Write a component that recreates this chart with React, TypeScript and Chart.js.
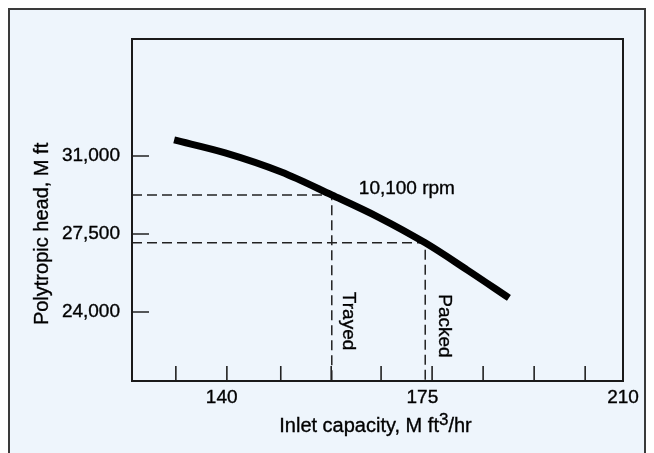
import React, { useEffect, useRef } from "react";
import { Chart, registerables } from "chart.js";

Chart.register(...registerables);

// ---- data ----
const CURVE_X = [131.7, 140.6, 150.4, 159.2, 167.3, 175.5, 182.8, 190.1];
const CURVE_Y = [31720, 31140, 30280, 29250, 28260, 27100, 25890, 24630];
const TRAYED_X = 159.2;
const TRAYED_Y = 29250;
const PACKED_X = 175.5;
const PACKED_Y = 27100;
const X_LABEL_TICKS = [140, 175, 210];
const X_MINOR_TICKS = [132.0, 140.9, 150.3, 159.1, 167.8, 176.7, 185.6, 194.5, 203.4];
const Y_TICKS = [24000, 27500, 31000];
const X_MIN = 124.35;
const X_MAX = 210;
const Y_MIN = 20900;
const Y_MAX = 36250;
const CURVE_LABEL = "10,100 rpm";
const CURVE_LABEL_AT = [172.3, 29520];
const LINE_LABELS = ["Trayed", "Packed"];
const LINE_LABEL_X = [162.0, 178.8];
const LINE_LABEL_Y = [23590, 23370];
const X_TITLE_PARTS = ["Inlet capacity, M ft", "3", "/hr"];
const Y_TITLE = "Polytropic head, M ft";

const FONT = '"Liberation Sans", Arial, Helvetica, sans-serif';
const INK = "#222";
const TEXT = "#000";

const decoPlugin = {
  id: "deco",
  afterDatasetsDraw(chart: any) {
    const { ctx, chartArea: a, scales } = chart;
    const x = scales.x;
    const y = scales.y;
    ctx.save();
    ctx.strokeStyle = INK;
    ctx.lineWidth = 1.6;
    ctx.beginPath();
    for (const v of Y_TICKS) {
      const py = y.getPixelForValue(v);
      ctx.moveTo(a.left, py);
      ctx.lineTo(a.left + 17, py);
    }
    for (const v of X_MINOR_TICKS) {
      const px = x.getPixelForValue(v);
      ctx.moveTo(px, a.bottom);
      ctx.lineTo(px, a.bottom - 15);
    }
    ctx.stroke();
    ctx.strokeStyle = "#1a1a1a";
    ctx.lineWidth = 2;
    ctx.strokeRect(a.left, a.top, a.right - a.left, a.bottom - a.top);

    ctx.fillStyle = TEXT;
    ctx.strokeStyle = TEXT;
    ctx.lineWidth = 0.35;
    ctx.font = "19px " + FONT;
    ctx.textAlign = "center";
    ctx.textBaseline = "middle";
    const put = (t: string, px: number, py: number) => {
      ctx.fillText(t, px, py);
      ctx.strokeText(t, px, py);
    };
    put(CURVE_LABEL, x.getPixelForValue(CURVE_LABEL_AT[0]), y.getPixelForValue(CURVE_LABEL_AT[1]));
    LINE_LABELS.forEach((t, i) => {
      ctx.save();
      ctx.translate(x.getPixelForValue(LINE_LABEL_X[i]), y.getPixelForValue(LINE_LABEL_Y[i]));
      ctx.rotate(Math.PI / 2);
      put(t, 0, 0);
      ctx.restore();
    });
    // y axis title, centred on the middle tick
    ctx.font = "20px " + FONT;
    ctx.save();
    ctx.translate(y.left + 32, y.getPixelForValue(Y_TICKS[1]));
    ctx.rotate(-Math.PI / 2);
    put(Y_TITLE, 0, 0);
    ctx.restore();

    // x axis title with a raised superscript
    const main = "20px " + FONT;
    const sup = "17px " + FONT;
    ctx.textAlign = "left";
    ctx.textBaseline = "alphabetic";
    ctx.font = main;
    const w0 = ctx.measureText(X_TITLE_PARTS[0]).width;
    const w2 = ctx.measureText(X_TITLE_PARTS[2]).width;
    ctx.font = sup;
    const w1 = ctx.measureText(X_TITLE_PARTS[1]).width;
    const total = w0 + w1 + w2;
    const base = x.bottom - 21;
    let cx = (a.left + a.right) / 2 - total / 2 - 2;
    ctx.font = main;
    put(X_TITLE_PARTS[0], cx, base);
    cx += w0;
    ctx.font = sup;
    put(X_TITLE_PARTS[1], cx, base - 7);
    cx += w1;
    ctx.font = main;
    put(X_TITLE_PARTS[2], cx, base);
    ctx.restore();
  },
};

export default function App() {
  const ref = useRef<HTMLCanvasElement | null>(null);

  useEffect(() => {
    if (!ref.current) return;
    Chart.defaults.font.family = FONT;
    const curve = CURVE_X.map((v, i) => ({ x: v, y: CURVE_Y[i] }));
    const dashed = (px: number, py: number) => [
      { x: X_MIN, y: py },
      { x: px, y: py },
      { x: px, y: Y_MIN },
    ];
    const chart = new Chart(ref.current, {
      type: "line",
      data: {
        datasets: [
          {
            label: "10,100 rpm",
            data: curve,
            borderColor: "#000",
            borderWidth: 7,
            borderCapStyle: "butt",
            pointRadius: 0,
            cubicInterpolationMode: "monotone",
          },
          {
            label: "Trayed",
            data: dashed(TRAYED_X, TRAYED_Y),
            borderColor: INK,
            borderWidth: 1.5,
            borderDash: [10, 5],
            pointRadius: 0,
            tension: 0,
          },
          {
            label: "Packed",
            data: dashed(PACKED_X, PACKED_Y),
            borderColor: INK,
            borderWidth: 1.5,
            borderDash: [10, 5],
            pointRadius: 0,
            tension: 0,
          },
        ],
      },
      options: {
        responsive: false,
        animation: false,
        devicePixelRatio: 1,
        layout: { padding: { top: 29, right: 21, left: 0, bottom: 0 } },
        plugins: { legend: { display: false }, tooltip: { enabled: false } },
        scales: {
          x: {
            type: "linear",
            min: X_MIN,
            max: X_MAX,
            grid: { display: false, drawTicks: false },
            border: { display: false },
            afterBuildTicks: (s: any) => {
              s.ticks = X_LABEL_TICKS.map((v) => ({ value: v }));
            },
            afterFit: (s: any) => {
              s.height = 72;
            },
            ticks: {
              autoSkip: false,
              maxRotation: 0,
              padding: 5,
              color: TEXT,
              textStrokeColor: TEXT,
              textStrokeWidth: 0.35,
              font: { size: 19 },
              callback: (v: any) => String(v),
            },
          },
          y: {
            type: "linear",
            min: Y_MIN,
            max: Y_MAX,
            grid: { display: false, drawTicks: false },
            border: { display: false },
            afterBuildTicks: (s: any) => {
              s.ticks = Y_TICKS.map((v) => ({ value: v }));
            },
            afterFit: (s: any) => {
              s.width = 122;
            },
            ticks: {
              autoSkip: false,
              padding: 12,
              color: TEXT,
              textStrokeColor: TEXT,
              textStrokeWidth: 0.35,
              font: { size: 19 },
              callback: (v: any) => Number(v).toLocaleString("en-US"),
            },
          },
        },
      },
      plugins: [decoPlugin],
    } as any);
    return () => chart.destroy();
  }, []);

  return (
    <div
      style={{
        width: 634,
        height: 460,
        border: "2px solid #3a3a3a",
        background: "#EEF5FC",
        overflow: "hidden",
      }}
    >
      <canvas ref={ref} width={634} height={443} style={{ display: "block", width: 634, height: 443 }} />
    </div>
  );
}
